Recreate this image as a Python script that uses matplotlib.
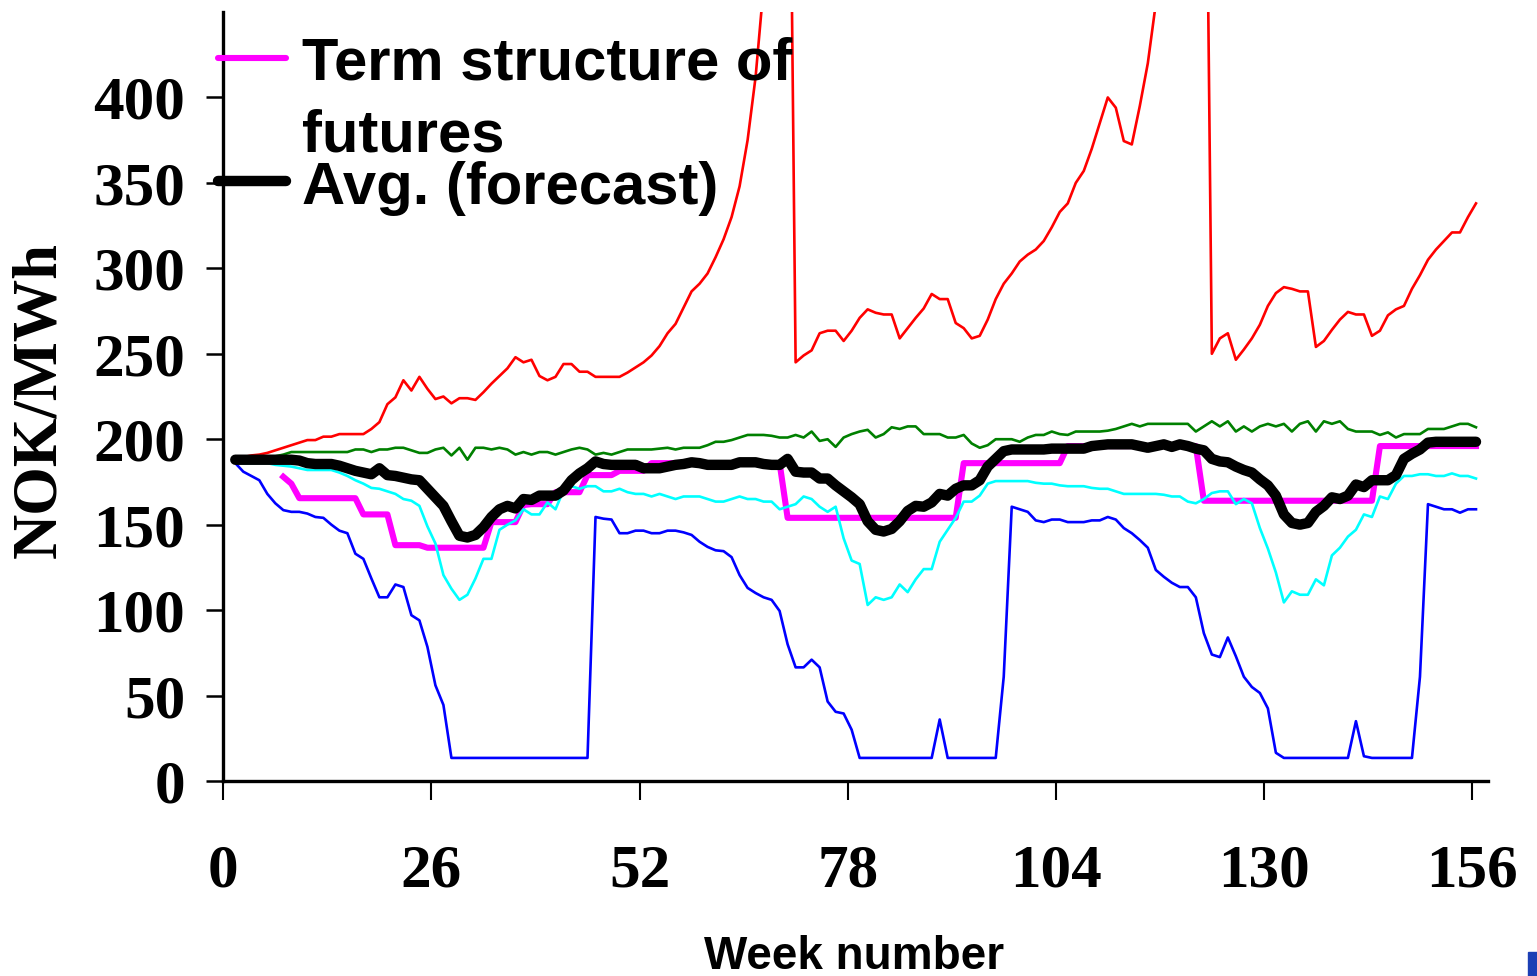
import numpy as np
import matplotlib.pyplot as plt
from matplotlib.lines import Line2D
from matplotlib.patches import Rectangle

# weekly values, weeks 1..156 (points sit mid-week on the axis)
weeks = np.arange(1, 157)

red = [188, 189.5, 190.5, 191, 192, 193.5, 195, 196.5, 198, 199.5,
       199.5, 201.5, 201.5, 203, 203, 203, 203, 206, 210, 220.5,
       224.5, 234.5, 228.5, 236.5, 229.5, 223.5, 225, 221, 224, 224,
       223, 227.5, 232.5, 237, 241.5, 248, 245, 246.5, 237, 234.5,
       236.5, 244, 244, 239.5, 239.5, 236.5, 236.5, 236.5, 236.5, 239,
       242, 245, 249, 254.5, 262, 267.5, 277, 286.5, 291, 297,
       306.5, 317, 330, 348, 375, 412, 465, 540, 620, 700,
       245, 249, 252, 262, 263.5, 263.5, 257.5, 263.5, 271, 276,
       274, 273, 273, 259, 265, 271, 276.5, 285, 282, 282,
       268, 265, 259, 260.5, 270, 282, 291, 297, 304, 308,
       311, 316, 324, 333, 338, 350, 357, 370, 385, 400,
       394, 374.5, 372.5, 395, 420, 455, 500, 545, 590, 635,
       670, 700, 250, 259, 262, 246.5, 252.5, 259, 267, 278,
       285.5, 289, 288, 286.5, 286.5, 254, 257.5, 264, 270, 274.5,
       273, 273, 260.5, 263.5, 272.5, 276, 278, 288, 296, 305,
       311, 316, 321, 321, 330, 338]

green = [188, 189, 190, 190, 190, 190, 191, 192.5, 192.5, 192.5,
         192.5, 192.5, 192.5, 192.5, 192.5, 194, 194, 192.5, 194, 194,
         195, 195, 193.5, 192, 192, 194, 195, 190.5, 195, 188,
         195, 195, 194, 195, 194, 191, 192.5, 191, 192.5, 192.5,
         191, 192.5, 194, 195, 194, 191, 192, 191, 192.5, 194,
         194, 194, 194, 194.5, 195, 194, 195, 195, 195, 196.5,
         198.5, 198.5, 199.5, 201, 202.5, 202.5, 202.5, 202, 201, 201,
         202.5, 201, 204.5, 199, 200, 195.5, 201, 203, 204.5, 205.5,
         201, 203, 207, 206, 207.5, 207.5, 203, 203, 203, 201,
         201, 202.5, 197.5, 195, 196.5, 200, 200, 200, 198.5, 201,
         202.5, 202.5, 204.5, 203, 202.5, 204.5, 204.5, 204.5, 204.5, 205,
         206, 207.5, 209, 207.5, 209, 209, 209, 209, 209, 209,
         204.5, 207.5, 210.5, 207.5, 210.5, 204.5, 207.5, 204.5, 207.5, 209,
         207.5, 209, 204.5, 209, 210.5, 204.5, 210.5, 209, 210.5, 206,
         204.5, 204.5, 204.5, 202.5, 204, 201, 203, 203, 203, 206,
         206, 206, 207.5, 209, 209, 207]

cyan = [187, 186, 186, 186, 186, 185, 184.5, 184, 183, 182,
        182, 182, 182, 180.5, 178.5, 176, 174, 171.5, 171, 169.5,
        168, 165, 164, 161, 149, 139, 120.5, 112.5, 106, 109,
        118.5, 130, 130, 147, 150, 152.5, 159, 156, 156, 163,
        159, 170, 172.5, 171, 172.5, 172.5, 169.5, 169.5, 171, 169,
        168, 168, 166.5, 168, 166.5, 165, 166.5, 166.5, 166.5, 165,
        163.5, 163.5, 165, 166.5, 165, 165, 163.5, 163.5, 159, 160.5,
        162, 166.5, 165, 160.5, 157.5, 160.5, 142, 129, 127, 103,
        107.5, 106, 107.5, 115, 110.5, 118, 124, 124, 140, 147,
        154, 163.5, 163.5, 167, 174, 175.5, 175.5, 175.5, 175.5, 175.5,
        174.5, 174, 174, 173, 172.5, 172.5, 172.5, 171.5, 171, 171,
        169.5, 168, 168, 168, 168, 168, 167.5, 166.5, 166.5, 163.5,
        162.5, 165, 168.5, 169.5, 169.5, 162, 165, 162.5, 148, 136,
        122, 104.5, 111, 109, 109, 118, 114.5, 132, 136.5, 143,
        147, 156, 154.5, 166.5, 165, 174, 178.5, 178.5, 179.5, 179.5,
        178.5, 178.5, 180, 178.5, 178.5, 177]

blue = [186, 181, 178.5, 176, 168, 162.5, 158.5, 157.5, 157.5, 156.5,
        154.5, 154, 150, 146.5, 145, 133, 130, 118.5, 107.5, 107.5,
        115, 113.5, 97, 94, 78.5, 56, 44.5, 13.5, 13.5, 13.5,
        13.5, 13.5, 13.5, 13.5, 13.5, 13.5, 13.5, 13.5, 13.5, 13.5,
        13.5, 13.5, 13.5, 13.5, 13.5, 154.5, 153.5, 153, 145, 145,
        146.5, 146.5, 145, 145, 146.5, 146.5, 145.5, 144, 140, 137,
        135, 134.5, 131, 120.5, 113, 110, 107.5, 106, 99.5, 80,
        66.5, 66.5, 71, 66.5, 46.5, 40.5, 39.5, 30, 13.5, 13.5,
        13.5, 13.5, 13.5, 13.5, 13.5, 13.5, 13.5, 13.5, 36, 13.5,
        13.5, 13.5, 13.5, 13.5, 13.5, 13.5, 61, 160.5, 159, 157.5,
        152.5, 151.5, 153, 153, 151.5, 151.5, 151.5, 152.5, 152.5, 154.5,
        153, 148, 145, 141, 136.5, 123.5, 119.5, 116, 113.5, 113.5,
        107.5, 86.5, 74, 72.5, 84, 73, 61, 55, 51.5, 42.5,
        16.5, 13.5, 13.5, 13.5, 13.5, 13.5, 13.5, 13.5, 13.5, 13.5,
        35, 14.5, 13.5, 13.5, 13.5, 13.5, 13.5, 13.5, 61, 162,
        160.5, 159, 159, 157, 159, 159]

# term structure of futures (starts at week 7)
futures = [np.nan, np.nan, np.nan, np.nan, np.nan, np.nan, 178, 174, 165.5, 165.5,
           165.5, 165.5, 165.5, 165.5, 165.5, 165.5, 156, 156, 156, 156,
           138, 138, 138, 138, 136.5, 136.5, 136.5, 136.5, 136.5, 136.5,
           136.5, 136.5, 151.5, 151.5, 151.5, 151.5, 161.5, 162, 162, 162,
           169, 169, 169, 169, 179, 179, 179, 179, 181.5, 181.5,
           181.5, 181.5, 186, 186, 186, 186, 186, 186, 186, 186,
           186, 186, 186, 186, 186, 186, 186, 186, 186, 154,
           154, 154, 154, 154, 154, 154, 154, 154, 154, 154,
           154, 154, 154, 154, 154, 154, 154, 154, 154, 154,
           154, 186, 186, 186, 186, 186, 186, 186, 186, 186,
           186, 186, 186, 186, 196, 196, 196, 196, 196, 196,
           196, 196, 196, 196, 196, 196, 196, 196, 196, 196,
           196, 164, 164, 164, 164, 164, 164, 164, 164, 164,
           164, 164, 164, 164, 164, 164, 164, 164, 164, 164,
           164, 164, 164, 196, 196, 196, 196, 196, 196, 196,
           196, 196, 196, 196, 196, 196]

avg = [188, 188, 188, 188, 188, 188, 188, 188, 187.5, 186,
       185.5, 185.5, 185.5, 184.5, 183, 181.5, 180.5, 179.5, 183, 179,
       178.5, 177.5, 176.5, 176, 171, 166, 161, 152, 143.5, 142.5,
       144, 148.5, 154.5, 159, 161, 159.5, 165, 164.5, 167, 167,
       167, 170, 176, 180, 183, 187, 185.5, 185, 185, 185,
       185, 183, 183, 183, 184, 185, 185.5, 186.5, 186, 185,
       185, 185, 185, 186.5, 186.5, 186.5, 185.5, 185, 185, 188.5,
       181, 180.5, 180.5, 177, 177, 173, 169.5, 166, 162, 152,
       147, 146, 147.5, 152, 158, 161, 160.5, 163, 168, 167,
       171, 173, 173, 176, 184, 188.5, 193, 194, 194, 194,
       194, 194, 194.5, 194.5, 194.5, 194.5, 194.5, 196, 196.5, 197,
       197, 197, 197, 196, 195, 196, 197, 195.5, 197, 196,
       194.5, 193.5, 188.5, 187, 186.5, 184, 182, 180.5, 176.5, 173,
       167, 156, 151, 150, 151, 157.5, 161, 166, 165, 167,
       173.5, 172, 176, 176, 176, 179, 188.5, 191.5, 194, 198,
       198.5, 198.5, 198.5, 198.5, 198.5, 198.5]

x_ticks = [0, 26, 52, 78, 104, 130, 156]
y_ticks = [0, 50, 100, 150, 200, 250, 300, 350, 400]

W, H = 1537, 976
fig = plt.figure(figsize=(W / 100, H / 100), dpi=100)
ax = fig.add_axes([223.3 / W, 195 / H, 1264.7 / W, 769 / H])

x = weeks + 0.5
ax.plot(x, red, color='#ff0000', lw=1.9)
ax.plot(x, green, color='#008000', lw=1.9)
ax.plot(x, blue, color='#0000ff', lw=1.9)
ax.plot(x, futures, color='#ff00ff', lw=4.4)
ax.plot(x, cyan, color='#00ffff', lw=1.9)
ax.plot(x, avg, color='black', lw=7.5, solid_capstyle='round', solid_joinstyle='round')

ax.set_xlim(0, 158)
ax.set_ylim(0, 450)
ax.set_xticks(x_ticks)
ax.set_yticks(y_ticks)

for s in ['top', 'right']:
    ax.spines[s].set_visible(False)
for s in ['left', 'bottom']:
    ax.spines[s].set_linewidth(2.4)

ax.tick_params(axis='x', direction='out', length=14, width=1.5, pad=31)
ax.tick_params(axis='y', direction='out', length=12.5, width=1.8, pad=15)
for lab in ax.get_xticklabels() + ax.get_yticklabels():
    lab.set_fontfamily('Liberation Serif')
    lab.set_fontweight('bold')
    lab.set_fontsize(44)

fig.text(40 / W, 1 - 400 / H, 'NOK/MWh', rotation=90, ha='center', va='center',
         family='Liberation Serif', weight='bold', fontsize=45)
fig.text(854 / W, 1 - 969 / H, 'Week number', ha='center', va='baseline',
         family='Liberation Sans', weight='bold', fontsize=33)

# legend (only these two entries are visible in the source)
fig.add_artist(Line2D([218 / W, 286 / W], [1 - 58 / H] * 2, color='#ff00ff', lw=4.4,
                      solid_capstyle='round'))
fig.add_artist(Line2D([218 / W, 286 / W], [1 - 181 / H] * 2, color='black', lw=7.5,
                      solid_capstyle='round'))
leg_font = dict(ha='left', va='baseline', family='Liberation Sans', weight='bold', fontsize=43)
fig.text(302 / W, 1 - 80 / H, 'Term structure of', **leg_font)
fig.text(302 / W, 1 - 151 / H, 'futures', **leg_font)
fig.text(302 / W, 1 - 204 / H, 'Avg. (forecast)', **leg_font)

# cropped slide remnant in the corner
fig.add_artist(Rectangle((1528 / W, 0), 9 / W, 24 / H, transform=fig.transFigure,
                         color='#1c3fb5'))

fig.savefig('out.png', dpi=100)
